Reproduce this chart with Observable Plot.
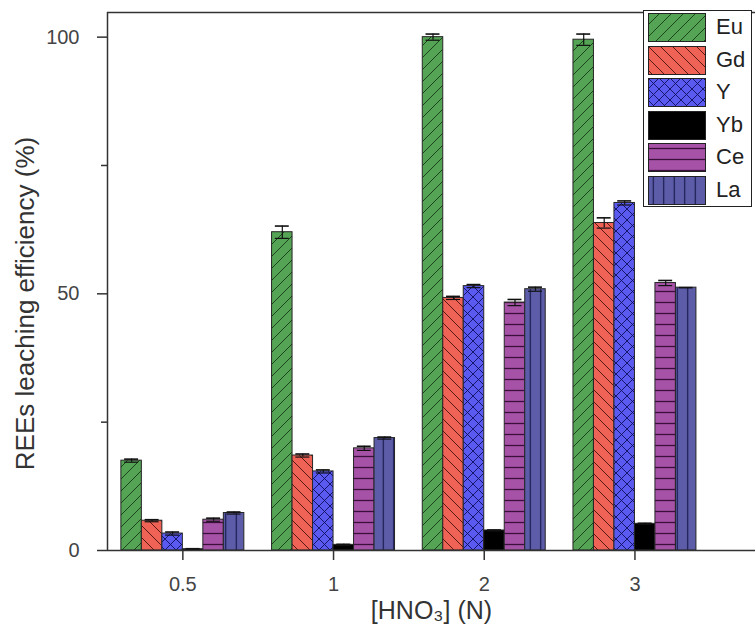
<!DOCTYPE html>
<html><head><meta charset="utf-8">
<script src="https://cdn.jsdelivr.net/npm/d3@7"></script>
<script src="https://cdn.jsdelivr.net/npm/@observablehq/plot@0.6"></script>
<style>
body{margin:0;background:#fff;font-family:Arial,"Liberation Sans",sans-serif;}
#wrap{position:relative;width:755px;height:637px;overflow:hidden;}
#legend{position:absolute;left:643px;top:10px;width:109px;height:197px;border:1.5px solid #222;background:#fff;box-sizing:border-box;}
.row{position:absolute;left:4px;height:28px;width:104px;}
.row svg{position:absolute;left:0;top:0;}
.row span{position:absolute;left:68px;top:0;line-height:28px;font-size:22px;color:#222;}
</style></head><body><div id="wrap"></div>
<script>
// ---- data ----
const groups = ["0.5", "1", "2", "3"];
const series = ["Eu", "Gd", "Y", "Yb", "Ce", "La"];
const Eu = [17.5, 62.0, 100.0, 99.5];
const Gd = [5.8, 18.5, 49.2, 63.8];
const Yv = [3.3, 15.4, 51.5, 67.7];
const Yb = [0.25, 1.1, 3.9, 5.2];
const Ce = [6.0, 19.9, 48.3, 52.1];
const La = [7.3, 21.9, 50.9, 51.2];
const EuErr = [0.3, 1.2, 0.6, 1.1];
const GdErr = [0.2, 0.3, 0.3, 1.0];
const YErr = [0.3, 0.3, 0.3, 0.4];
const YbErr = [0.1, 0.1, 0.1, 0.1];
const CeErr = [0.3, 0.4, 0.6, 0.5];
const LaErr = [0.2, 0.2, 0.4, 0.0];
const yTicks = [0, 50, 100];
const yMinor = [25, 75];
const yLabel = "REEs leaching efficiency (%)";
const xLabel = "[HNO\u2083] (N)";

const values = [Eu, Gd, Yv, Yb, Ce, La];
const errors = [EuErr, GdErr, YErr, YbErr, CeErr, LaErr];
const fills = {Eu:"#55a455", Gd:"#ef6357", Y:"#5a5af0", Yb:"#000000", Ce:"#a652a6", La:"#5c5ca8"};
const inks  = {Eu:"#1c451c", Gd:"#5a1a14", Y:"#0e0e5e", Yb:"#000", Ce:"#3b0f3b", La:"#15154a"};

const rows = [];
groups.forEach((g, gi) => series.forEach((s, si) => rows.push({
  group: g, series: s, gi: gi + 1, si, value: values[si][gi], err: errors[si][gi]
})));

const bw = 0.136;           // bar width in group-index units
const x1 = d => d.gi + (d.si - 3) * bw;
const x2 = d => x1(d) + bw;
const xc = d => x1(d) + bw / 2;
const cap = bw * 0.34;
const yTop = 104.8;

const barMarks = series.map(s => Plot.rectY(rows.filter(d => d.series === s), {
  x1, x2, y1: 0, y2: "value", fill: `url(#pat-${s})`, stroke: "#262626", strokeWidth: 1
}));

const chart = Plot.plot({
  width: 755, height: 637,
  marginLeft: 107, marginRight: 0, marginTop: 12, marginBottom: 87,
  style: {fontFamily: "Arial, 'Liberation Sans', sans-serif", fontSize: "20px", color: "#333", background: "white"},
  x: {domain: [0.5, 4.8]},
  y: {domain: [0, yTop]},
  marks: [
    ...barMarks,
    Plot.ruleX(rows.filter(d => d.err > 0), {x: xc, y1: d => d.value - d.err, y2: d => d.value + d.err, stroke: "#111", strokeWidth: 1.2}),
    Plot.ruleY(rows, {y: d => d.value + d.err, x1: d => xc(d) - cap, x2: d => xc(d) + cap, stroke: "#111", strokeWidth: 1.6}),
    Plot.ruleY(rows.filter(d => d.err > 0), {y: d => d.value - d.err, x1: d => xc(d) - cap, x2: d => xc(d) + cap, stroke: "#111", strokeWidth: 1.2}),
    Plot.ruleY([0], {stroke: "#333", strokeWidth: 1.5}),
    Plot.ruleY([yTop], {stroke: "#333", strokeWidth: 1.5}),
    Plot.ruleX([0.5], {stroke: "#333", strokeWidth: 1.5}),
    Plot.axisX({ticks: groups.map((g, i) => i + 1), tickFormat: i => groups[i - 1], tickSize: 10, tickPadding: 16, fontSize: 20, label: null, stroke: "#333", strokeWidth: 1.5, fill: "#444"}),
    Plot.axisY({ticks: yTicks, tickSize: 10, tickPadding: 18, fontSize: 20, label: null, stroke: "#333", strokeWidth: 1.5, fill: "#444"}),
    Plot.axisY({ticks: yMinor, tickSize: 6, tickFormat: () => "", label: null, stroke: "#333", strokeWidth: 1.5}),
    Plot.text([yLabel], {frameAnchor: "left", textAnchor: "middle", rotate: -90, dx: -82, dy: 22, fontSize: 26, fill: "#333"}),
    Plot.text([xLabel], {frameAnchor: "bottom", textAnchor: "middle", dy: 68, fontSize: 25, fill: "#333"})
  ]
});

// patterns
const defsSrc = `
<pattern id="pat-Eu" patternUnits="userSpaceOnUse" width="12" height="12">
 <rect width="12" height="12" fill="${fills.Eu}"/>
 <path d="M-3,3 L3,-3 M0,12 L12,0 M9,15 L15,9" stroke="${inks.Eu}" stroke-width="1"/>
</pattern>
<pattern id="pat-Gd" patternUnits="userSpaceOnUse" width="12" height="12">
 <rect width="12" height="12" fill="${fills.Gd}"/>
 <path d="M-3,9 L3,15 M0,0 L12,12 M9,-3 L15,3" stroke="${inks.Gd}" stroke-width="1"/>
</pattern>
<pattern id="pat-Y" patternUnits="userSpaceOnUse" width="11" height="11">
 <rect width="11" height="11" fill="${fills.Y}"/>
 <path d="M0,0 L11,11 M0,11 L11,0" stroke="${inks.Y}" stroke-width="0.9"/>
</pattern>
<pattern id="pat-Yb" patternUnits="userSpaceOnUse" width="10" height="10">
 <rect width="10" height="10" fill="${fills.Yb}"/>
</pattern>
<pattern id="pat-Ce" patternUnits="userSpaceOnUse" width="10" height="11">
 <rect width="10" height="11" fill="${fills.Ce}"/>
 <path d="M0,5.5 L10,5.5" stroke="${inks.Ce}" stroke-width="1.3"/>
</pattern>
<pattern id="pat-La" patternUnits="userSpaceOnUse" width="10.5" height="10">
 <rect width="10.5" height="10" fill="${fills.La}"/>
 <path d="M5.25,0 L5.25,10" stroke="${inks.La}" stroke-width="1.1"/>
</pattern>`;
const defs = document.createElementNS("http://www.w3.org/2000/svg", "defs");
defs.innerHTML = defsSrc;
chart.insertBefore(defs, chart.firstChild);

const wrap = document.getElementById("wrap");
wrap.appendChild(chart);

// legend
const legend = document.createElement("div");
legend.id = "legend";
series.forEach((s, i) => {
  const r = document.createElement("div");
  r.className = "row";
  r.style.top = (2 + i * 32.5) + "px";
  r.innerHTML = `<svg width="58" height="29"><rect x="0.5" y="0.5" width="57" height="28" fill="url(#pat-${s})" stroke="#222" stroke-width="1"/></svg><span>${s}</span>`;
  legend.appendChild(r);
});
wrap.appendChild(legend);
</script></body></html>
